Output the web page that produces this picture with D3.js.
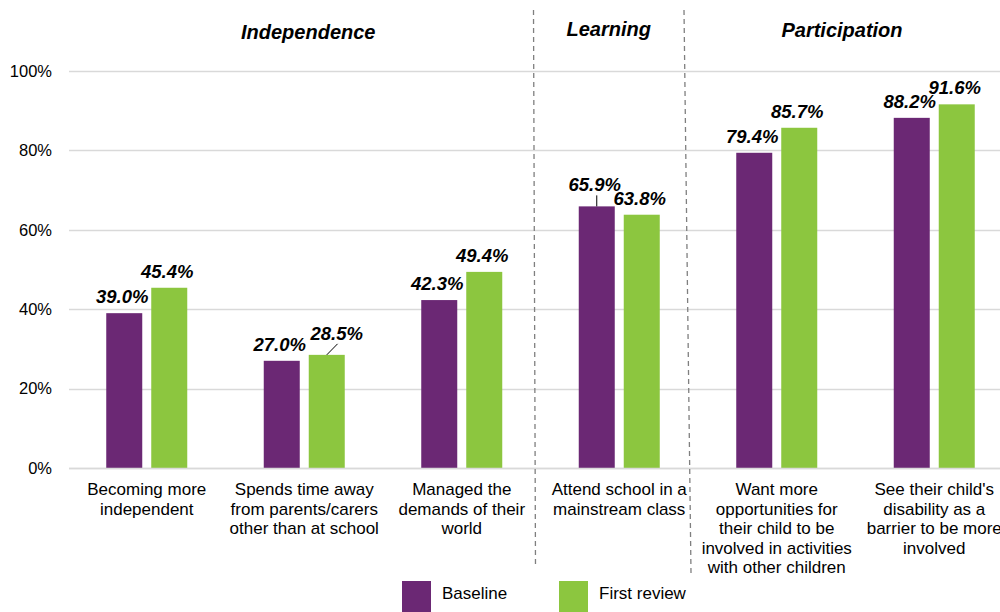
<!DOCTYPE html>
<html>
<head>
<meta charset="utf-8">
<script src="https://cdn.jsdelivr.net/npm/d3@7"></script>
<style>
  html, body { margin: 0; padding: 0; background: #fff; }
  svg { display: block; font-family: "Liberation Sans", Arial, sans-serif; }
</style>
</head>
<body>
<svg id="chart" width="1000" height="612"></svg>
<script>
// ---- data ----
const categories = ["c1", "c2", "c3", "c4", "c5", "c6"];
const categoryLabels = [
  ["Becoming more", "independent"],
  ["Spends time away", "from parents/carers", "other than at school"],
  ["Managed the", "demands of their", "world"],
  ["Attend school in a", "mainstream class"],
  ["Want more", "opportunities for", "their child to be", "involved in activities", "with other children"],
  ["See their child's", "disability as a", "barrier to be more", "involved"]
];
const seriesNames = ["Baseline", "First review"];
const baseline = [39.0, 27.0, 42.3, 65.9, 79.4, 88.2];
const firstReview = [45.4, 28.5, 49.4, 63.8, 85.7, 91.6];
const yTicks = [0, 20, 40, 60, 80, 100];
const groupNames = ["Independence", "Learning", "Participation"];

// ---- layout / style ----
const colors = ["#6b2874", "#8cc63f"];
const W = 1000, H = 612;
const plotLeft = 68, plotRight = 1013, plotTop = 71, plotBottom = 468;

const svg = d3.select("#chart");

const x0 = d3.scaleBand().domain(categories).range([plotLeft, plotRight]).paddingInner(0).paddingOuter(0);
const x1 = d3.scaleBand().domain(seriesNames).paddingInner(0.2);
const y = d3.scaleLinear().domain([0, 100]).range([plotBottom, plotTop]);

const step = x0.bandwidth();
x1.range([step / 2 - 40.5, step / 2 + 40.5]);

// gridlines
svg.append("g").selectAll("line").data(yTicks).join("line")
  .attr("x1", plotLeft + 1).attr("x2", W)
  .attr("y1", d => Math.round(y(d)) + 0.5).attr("y2", d => Math.round(y(d)) + 0.5)
  .attr("stroke", "#d9d9d9").attr("stroke-width", 1.3);

// y axis labels
const yAxis = d3.axisLeft(y).tickValues(yTicks).tickFormat(d => d + "%").tickSize(0).tickPadding(0);
const gy = svg.append("g").attr("transform", `translate(52,0)`).call(yAxis);
gy.select(".domain").remove();
gy.selectAll("text").attr("font-size", "16.5px").attr("fill", "#000")
  .attr("font-family", "'Liberation Sans', Arial, sans-serif");

// bars
const seriesData = [baseline, firstReview];
const barData = [];
categories.forEach((c, i) => {
  seriesNames.forEach((s, j) => {
    barData.push({ cat: c, s: s, j: j, v: seriesData[j][i], i: i });
  });
});

svg.append("g").selectAll("rect").data(barData).join("rect")
  .attr("x", d => x0(d.cat) + x1(d.s))
  .attr("y", d => y(d.v))
  .attr("width", x1.bandwidth())
  .attr("height", d => y(0) - y(d.v))
  .attr("fill", d => colors[d.j]);

// value labels (special offset for a couple with leader lines)
const labelShift = { "c2|First review": [12, -5], "c4|Baseline": [0, -5] };
const lbl = svg.append("g");
barData.forEach(d => {
  const cx = x0(d.cat) + x1(d.s) + x1.bandwidth() / 2;
  const top = y(d.v);
  const sh = labelShift[d.cat + "|" + d.s] || [0, 0];
  const tx = cx - 2 + sh[0];
  const ty = top - 10 + sh[1];
  lbl.append("text")
    .attr("x", tx).attr("y", ty)
    .attr("text-anchor", "middle")
    .attr("font-size", "18.5px").attr("font-weight", "bold").attr("font-style", "italic")
    .attr("fill", "#000")
    .text(d.v.toFixed(1) + "%");
  if (sh[0] !== 0 || sh[1] !== 0) {
    lbl.append("line")
      .attr("x1", cx).attr("y1", top)
      .attr("x2", cx + sh[0] * 0.9).attr("y2", ty + 4)
      .attr("stroke", "#000").attr("stroke-width", 1);
  }
});

// x axis line
svg.append("line")
  .attr("x1", plotLeft + 1).attr("x2", W)
  .attr("y1", plotBottom + 0.5).attr("y2", plotBottom + 0.5)
  .attr("stroke", "#d9d9d9").attr("stroke-width", 1.3);

// category labels
const cl = svg.append("g");
categories.forEach((c, i) => {
  const t = cl.append("text")
    .attr("x", x0(c) + step / 2)
    .attr("y", 495)
    .attr("text-anchor", "middle")
    .attr("font-size", "17px").attr("fill", "#000");
  categoryLabels[i].forEach((line, k) => {
    t.append("tspan").attr("x", x0(c) + step / 2).attr("dy", k === 0 ? 0 : 19.5).text(line);
  });
});

// separators (dashed)
const sepLines = [
  { x1: x0("c4") - 7, x2: x0("c4") - 5, y2: 568 },
  { x1: x0("c5") - 14, x2: x0("c5") - 7, y2: 573 }
];
svg.append("g").selectAll("line").data(sepLines).join("line")
  .attr("x1", d => d.x1).attr("x2", d => d.x2)
  .attr("y1", 10).attr("y2", d => d.y2)
  .attr("stroke", "#7f7f7f").attr("stroke-width", 1.3)
  .attr("stroke-dasharray", "5,4");

// group headers
const headerX = [
  (x0("c1") + x0("c3") + step) / 2 + 4,
  (sepLines[0].x1 + sepLines[1].x1) / 2,
  (sepLines[1].x1 + W) / 2
];
const headerY = [39, 36, 37];
svg.append("g").selectAll("text").data(groupNames).join("text")
  .attr("x", (d, i) => headerX[i]).attr("y", (d, i) => headerY[i])
  .attr("text-anchor", "middle")
  .attr("font-size", "20px").attr("font-weight", "bold").attr("font-style", "italic")
  .attr("fill", "#000")
  .text(d => d);

// legend
const legendX = [402, 559];
const lg = svg.append("g");
seriesNames.forEach((s, j) => {
  lg.append("rect").attr("x", legendX[j]).attr("y", 581).attr("width", 29).attr("height", 31).attr("fill", colors[j]);
  lg.append("text").attr("x", legendX[j] + 40).attr("y", 599)
    .attr("font-size", "17px").attr("fill", "#000").text(s);
});
</script>
</body>
</html>
